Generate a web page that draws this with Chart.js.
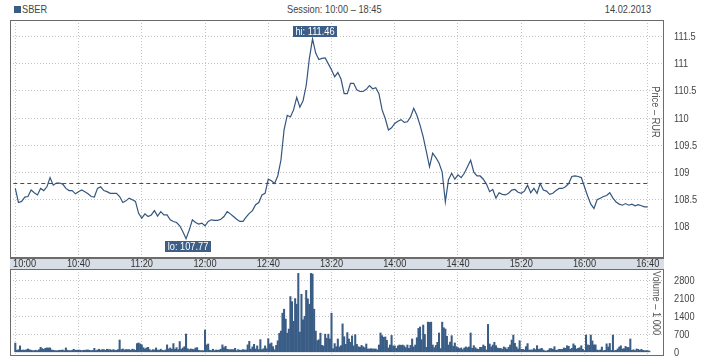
<!DOCTYPE html>
<html>
<head>
<meta charset="utf-8">
<script src="https://cdn.jsdelivr.net/npm/chart.js@4.4.1/dist/chart.umd.min.js"></script>
<style>
    body { margin: 0; background: #fff; }
    #wrap { position: relative; width: 718px; height: 360px; overflow: hidden; font-family: 'Liberation Sans', Arial, sans-serif; }
    .hdr { position: absolute; top: 3px; font-size: 11px; line-height: 13px; color: #444; white-space: nowrap; transform: scaleX(0.84); }
    #ticker-mark { position: absolute; left: 14px; top: 6px; width: 7px; height: 7px; background: #3a5d86; }
    canvas { position: absolute; left: 0; }
</style>
</head>
<body>
<div id="wrap">
    <div id="ticker-mark"></div>
    <div class="hdr" id="ticker" style="left:22px;transform-origin:left center;">SBER</div>
    <div class="hdr" id="session" style="left:287px;transform-origin:left center;">Session: 10:00 – 18:45</div>
    <div class="hdr" id="date" style="right:67px;transform-origin:right center;">14.02.2013</div>
    <canvas id="price-chart" width="718" height="260" style="top:0;"></canvas>
    <canvas id="volume-chart" width="718" height="102" style="top:258px;"></canvas>
</div>
<script>
// price every 2 minutes from 10:00, RUR
const priceStep = 2;
const priceValues = [
    108.70, 108.44, 108.46, 108.54, 108.55, 108.67, 108.62, 108.58, 108.70, 108.66,
    108.73, 108.90, 108.76, 108.80, 108.80, 108.78, 108.70, 108.66, 108.66, 108.60,
    108.64, 108.67, 108.64, 108.60, 108.55, 108.54, 108.70, 108.73, 108.66, 108.64,
    108.61, 108.61, 108.61, 108.55, 108.44, 108.47, 108.52, 108.49, 108.46, 108.24,
    108.15, 108.23, 108.18, 108.21, 108.29, 108.19, 108.27, 108.21, 108.21, 108.12,
    108.09, 108.07, 108.01, 107.90, 107.77, 107.93, 108.12, 108.07, 108.04, 108.06,
    108.01, 108.09, 108.12, 108.11, 108.11, 108.13, 108.18, 108.27, 108.23, 108.18,
    108.13, 108.09, 108.09, 108.17, 108.24, 108.29, 108.40, 108.44, 108.58, 108.61,
    108.87, 108.84, 108.79, 108.93, 109.22, 109.78, 110.05, 110.02, 110.15, 110.38,
    110.20, 110.32, 110.60, 111.10, 111.46, 111.20, 111.08, 111.10, 111.11, 111.00,
    110.89, 110.76, 110.84, 110.72, 110.45, 110.45, 110.64, 110.64, 110.52, 110.49,
    110.49, 110.53, 110.60, 110.54, 110.56, 110.45, 110.15, 109.99, 109.78, 109.82,
    109.90, 109.94, 109.97, 109.92, 109.93, 110.02, 110.18, 110.05, 109.87, 109.65,
    109.38, 109.10, 109.35, 109.27, 109.17, 109.00, 108.45, 108.86, 108.98, 108.87,
    108.95, 108.90, 108.98, 109.10, 109.22, 109.00, 108.93, 108.93, 108.87, 108.78,
    108.64, 108.68, 108.52, 108.62, 108.59, 108.58, 108.61, 108.67, 108.68, 108.63,
    108.61, 108.65, 108.76, 108.62, 108.70, 108.61, 108.79, 108.67, 108.65, 108.59,
    108.61, 108.66, 108.70, 108.70, 108.73, 108.79, 108.92, 108.93, 108.92, 108.90,
    108.73, 108.56, 108.41, 108.33, 108.49, 108.52, 108.55, 108.57, 108.62, 108.52,
    108.45, 108.41, 108.39, 108.42, 108.39, 108.41, 108.38, 108.40, 108.38, 108.36,
    108.36
];

// volume per minute from 10:00, thousands
const volumeValues = [
    360, 80, 100, 250, 80, 90, 80, 100, 130, 100, 80, 65, 65, 80, 65, 100, 195, 145, 115, 155,
    170, 170, 170, 90, 80, 65, 65, 65, 80, 80, 90, 65, 170, 80, 65, 65, 80, 115, 80, 80,
    90, 80, 65, 80, 80, 90, 90, 80, 65, 75, 155, 65, 90, 120, 80, 105, 105, 80, 120, 105,
    105, 80, 105, 80, 80, 105, 480, 105, 130, 90, 105, 105, 105, 80, 120, 105, 80, 340, 365, 325,
    290, 180, 130, 170, 195, 105, 65, 105, 90, 170, 90, 80, 120, 80, 65, 90, 290, 130, 170, 120,
    340, 120, 180, 105, 420, 120, 170, 220, 715, 140, 105, 130, 120, 105, 170, 180, 80, 65, 65, 65,
    870, 290, 325, 80, 65, 120, 65, 90, 80, 90, 120, 290, 180, 235, 120, 105, 105, 105, 105, 155,
    65, 105, 80, 80, 105, 90, 90, 290, 430, 120, 210, 310, 130, 250, 105, 495, 105, 140, 250, 140,
    530, 325, 365, 220, 100, 270, 450, 740, 830, 1530, 1685, 1300, 750, 910, 2180, 1980, 1210, 2100, 1880, 3085,
    790, 2270, 1270, 1410, 2420, 2090, 1880, 3085, 3060, 1685, 830, 455, 490, 750, 270, 250, 710, 545, 710, 520,
    1530, 140, 340, 220, 520, 210, 260, 1110, 610, 310, 770, 520, 390, 640, 250, 690, 310, 220, 195, 270,
    220, 180, 325, 130, 130, 140, 130, 130, 130, 90, 285, 755, 650, 585, 600, 470, 170, 285, 660, 250,
    250, 155, 250, 285, 270, 285, 250, 180, 285, 155, 270, 520, 210, 285, 570, 935, 990, 495, 1065, 700,
    195, 1180, 1170, 1180, 285, 180, 270, 390, 755, 145, 1180, 960, 910, 625, 285, 400, 650, 235, 365, 220,
    180, 145, 170, 105, 170, 210, 180, 210, 755, 155, 260, 180, 130, 117, 195, 195, 285, 235, 90, 1090,
    325, 210, 285, 390, 260, 170, 150, 155, 117, 210, 180, 117, 195, 285, 480, 675, 350, 210, 130, 455,
    117, 117, 90, 220, 340, 90, 90, 90, 145, 105, 260, 117, 130, 155, 90, 52, 52, 78, 145, 145,
    117, 220, 78, 90, 117, 117, 117, 170, 155, 255, 235, 117, 155, 330, 260, 130, 155, 180, 255, 117,
    65, 675, 290, 270, 675, 445, 290, 290, 90, 75, 90, 205, 65, 75, 330, 205, 345, 75, 675, 65,
    75, 130, 205, 255, 130, 140, 230, 190, 190, 520, 75, 100, 65, 130, 115, 75, 115, 75, 65, 65,
    65, 50
];

const prevClose = 108.80;
const priceTicks = [108, 108.5, 109, 109.5, 110, 110.5, 111, 111.5];
const volumeTicks = [0, 700, 1400, 2100, 2800];
const timeTicks = [0, 40, 80, 120, 160, 200, 240, 280, 320, 360, 400];
const timeLabels = ['10:00', '10:40', '11:20', '12:00', '12:40', '13:20', '14:00', '14:40', '15:20', '16:00', '16:40'];

const FONT = "'Liberation Sans', Arial, sans-serif";
const SQUEEZE = 0.84;   // reference uses a narrow face
const LINE_BLUE = '#34567e';
const GRID = '#c4c4c4';
const FRAME = '#6c6c6c';

document.addEventListener("DOMContentLoaded", () => {

    const xScale = () => ({
        type: 'linear',
        min: -3.35,
        max: 410.3,
        offset: false,
        afterBuildTicks: s => { s.ticks = timeTicks.map(v => ({ value: v })); },
        afterFit: s => { s.height = 0; },
        ticks: { display: false },
        grid: { color: GRID, drawTicks: false, offset: false },
        border: { display: false, dash: [1, 2] }
    });

    // narrow text helper (rotation optional)
    const narrowText = (ctx, text, x, y, align, color, rot) => {
        ctx.save();
        ctx.translate(x, y);
        if (rot) ctx.rotate(rot);
        ctx.scale(SQUEEZE, 1);
        ctx.font = `11px ${FONT}`;
        ctx.fillStyle = color;
        ctx.textAlign = align;
        ctx.textBaseline = 'middle';
        ctx.fillText(text, 0, 0);
        ctx.restore();
    };

    const rightLabels = (chart, ticks) => {
        const { chartArea: a, scales: { y } } = chart;
        ticks.forEach(v => narrowText(chart.ctx, String(v), a.right + 10, y.getPixelForValue(v) + 0.5, 'left', '#444'));
    };

    const markBox = (ctx, text, cx, top) => {
        ctx.font = `11px ${FONT}`;
        const w = Math.round(ctx.measureText(text).width * SQUEEZE) + 5;
        const left = Math.round(cx - w / 2);
        ctx.fillStyle = '#3d5f87';
        ctx.fillRect(left, top, w, 11);
        narrowText(ctx, text, left + w / 2, top + 6, 'center', '#fff');
    };

    // Price panel decorations
    const priceDecor = {
        id: 'priceDecor',
        beforeDatasetsDraw(chart) {
            const { ctx, scales: { x, y } } = chart;
            const yc = Math.round(y.getPixelForValue(prevClose)) + 0.5;
            ctx.save();
            ctx.strokeStyle = '#d01414';
            ctx.lineWidth = 1;
            ctx.setLineDash([4, 3]);
            ctx.beginPath();
            ctx.moveTo(x.getPixelForValue(0) - 2, yc);
            ctx.lineTo(x.getPixelForValue((priceValues.length - 1) * priceStep), yc);
            ctx.stroke();
            ctx.restore();
        },
        afterDatasetsDraw(chart) {
            const { ctx, scales: { x, y } } = chart;
            narrowText(ctx, 'Price – RUR', 655, 112, 'center', '#555', Math.PI / 2);

            const hi = Math.max(...priceValues);
            const lo = Math.min(...priceValues);
            const hiX = x.getPixelForValue(priceValues.indexOf(hi) * priceStep);
            const loX = x.getPixelForValue(priceValues.indexOf(lo) * priceStep);
            markBox(ctx, `hi: ${hi.toFixed(2)}`, hiX + 2, Math.round(y.getPixelForValue(hi)) - 13);
            markBox(ctx, `lo: ${lo.toFixed(2)}`, loX + 2, Math.round(y.getPixelForValue(lo)) + 2);
        },
        afterDraw(chart) {
            const { ctx, chartArea: a } = chart;
            ctx.save();
            ctx.strokeStyle = FRAME;
            ctx.lineWidth = 1;
            ctx.strokeRect(a.left + 0.5, a.top + 0.5, a.width - 1, a.height - 1);
            ctx.restore();
            rightLabels(chart, priceTicks);
        }
    };

    new Chart(document.getElementById('price-chart'), {
        type: 'line',
        data: {
            datasets: [{
                data: priceValues.map((v, i) => ({ x: i * priceStep, y: v })),
                borderColor: LINE_BLUE,
                borderWidth: 1.2,
                pointRadius: 0,
                tension: 0,
                fill: false
            }]
        },
        options: {
            responsive: false,
            animation: false,
            layout: { padding: { left: 10, top: 20, right: 0, bottom: 2 } },
            plugins: { legend: { display: false }, tooltip: { enabled: false } },
            scales: {
                x: xScale(),
                y: {
                    position: 'right',
                    min: 107.415,
                    max: 111.81,
                    afterBuildTicks: s => { s.ticks = priceTicks.map(v => ({ value: v })); },
                    afterFit: s => { s.width = 54; },
                    ticks: { display: false },
                    grid: { color: GRID, drawTicks: false },
                    border: { display: false, dash: [1, 2] }
                }
            }
        },
        plugins: [priceDecor]
    });

    // Volume panel + time band
    const volumeDecor = {
        id: 'volumeDecor',
        beforeDraw(chart) {
            const { ctx, chartArea: a, scales: { x } } = chart;
            ctx.save();
            ctx.fillStyle = '#d7dee6';
            ctx.fillRect(a.left, 0, a.width, a.top);
            ctx.strokeStyle = FRAME;
            ctx.lineWidth = 1;
            ctx.beginPath();
            ctx.moveTo(a.left, 0.5);
            ctx.lineTo(a.right, 0.5);
            ctx.stroke();
            ctx.font = `11px ${FONT}`;
            timeTicks.forEach((t, i) => {
                const w = ctx.measureText(timeLabels[i]).width * SQUEEZE;
                const px = Math.max(x.getPixelForValue(t), a.left + 3 + w / 2);
                narrowText(ctx, timeLabels[i], px, a.top / 2 + 0.5, 'center', '#333');
            });
            ctx.restore();
        },
        afterDatasetsDraw(chart) {
            narrowText(chart.ctx, 'Volume – 1 000', 656, 45, 'center', '#555', Math.PI / 2);
        },
        afterDraw(chart) {
            const { ctx, chartArea: a } = chart;
            ctx.save();
            ctx.strokeStyle = FRAME;
            ctx.lineWidth = 1;
            ctx.strokeRect(a.left + 0.5, a.top + 0.5, a.width - 1, a.height - 1);
            ctx.restore();
            rightLabels(chart, volumeTicks);
        }
    };

    new Chart(document.getElementById('volume-chart'), {
        type: 'bar',
        data: {
            datasets: [{
                data: volumeValues.map((v, i) => ({ x: i, y: v })),
                backgroundColor: '#3a5d86',
                barThickness: 1.4,
                borderWidth: 0
            }]
        },
        options: {
            responsive: false,
            animation: false,
            layout: { padding: { left: 10, top: 11, right: 0, bottom: 4 } },
            plugins: { legend: { display: false }, tooltip: { enabled: false } },
            scales: {
                x: xScale(),
                y: {
                    position: 'right',
                    min: -145,
                    max: 3257,
                    afterBuildTicks: s => { s.ticks = volumeTicks.map(v => ({ value: v })); },
                    afterFit: s => { s.width = 54; },
                    ticks: { display: false },
                    grid: { color: ctx => ctx.tick && ctx.tick.value === 0 ? 'rgba(0,0,0,0)' : GRID, drawTicks: false },
                    border: { display: false, dash: [1, 2] }
                }
            }
        },
        plugins: [volumeDecor]
    });
});
</script>
</body>
</html>
